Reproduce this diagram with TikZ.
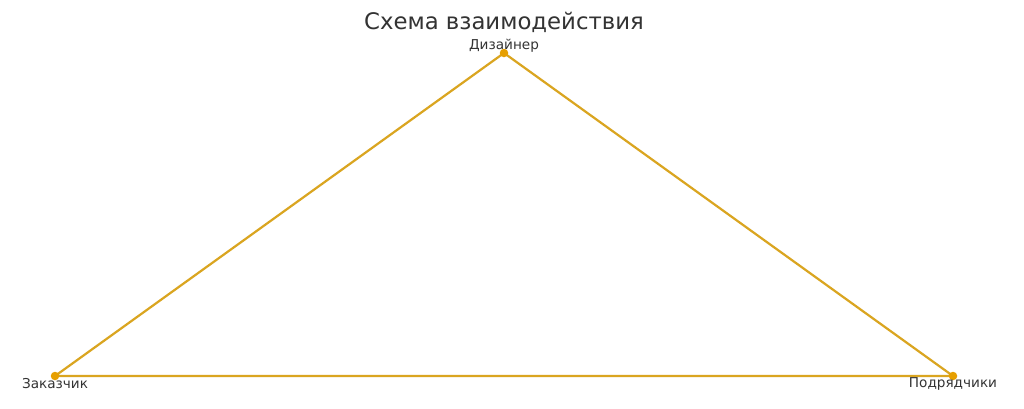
\documentclass[tikz,border=0pt]{standalone}
\usepackage{fontspec}
\setmainfont{DejaVu Sans}
\definecolor{edgec}{HTML}{DAA520}
\definecolor{dotc}{HTML}{E69F00}
\definecolor{txtc}{HTML}{333333}
\begin{document}
\begin{tikzpicture}[x=1pt,y=-1pt,
  edge/.style={draw=edgec,line width=2.2pt},
  vdot/.style={circle,fill=dotc,inner sep=0pt,minimum size=8.5pt},
  lbl/.style={text=txtc,font=\fontsize{13.6}{15}\selectfont,inner sep=0pt},
  ttl/.style={text=txtc,font=\fontsize{22.8}{26}\selectfont,inner sep=0pt}]
\useasboundingbox[fill=white] (0,0) rectangle (1024,408);
\node[ttl] (title) at (504,22) {Схема взаимодействия};
\coordinate (d) at (504,53);
\coordinate (z) at (55,376);
\coordinate (p) at (953,376);
\draw[edge] (z) -- (d) -- (p) -- (z);
\node[vdot] (dd) at (d) {};
\node[vdot] (zd) at (z) {};
\node[vdot] (pd) at (p) {};
\node[lbl] (dl) at (504,46) {Дизайнер};
\node[lbl] (zl) at (55,383.5) {Заказчик};
\node[lbl] (pl) at (953,383.5) {Подрядчики};
\end{tikzpicture}
\end{document}
